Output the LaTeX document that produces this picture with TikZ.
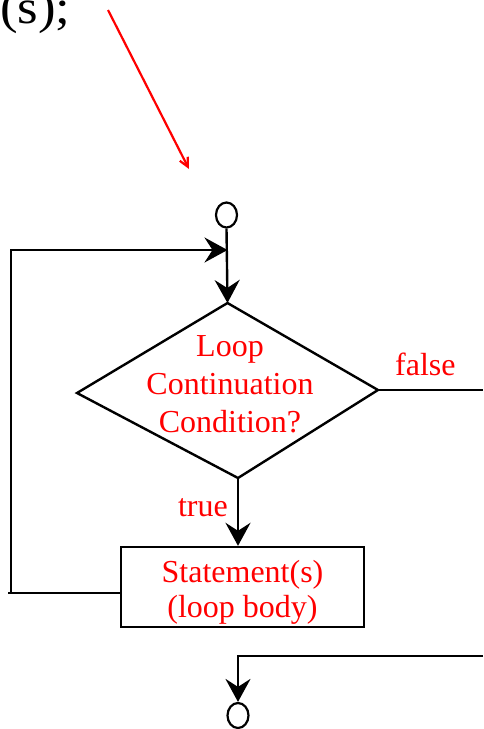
\documentclass[tikz,border=0pt]{standalone}
\usepackage{fontspec}
\setmainfont{Liberation Serif}
\usetikzlibrary{arrows.meta,shapes.geometric}
\begin{document}
\begin{tikzpicture}[x=1pt,y=-1pt,
  flow/.style={line width=2.4pt, draw=black},
  tip/.style={-{Stealth[length=23pt,width=25pt,inset=8pt]}},
  term/.style={draw, ellipse, line width=2.2pt, minimum width=21pt, minimum height=25pt, inner sep=0pt},
  rectbox/.style={draw, line width=2.4pt, minimum width=243pt, minimum height=80pt, inner sep=0pt},
  redtext/.style={text=red, font=\fontsize{32}{38}\selectfont, align=center, inner sep=0pt},
  lbl/.style={text=red, font=\fontsize{32}{38}\selectfont, inner sep=0pt},
]
\useasboundingbox (0,0) rectangle (483,729);

% cropped code text and pointer
\node[anchor=base west, inner sep=0pt, xscale=1.1, transform shape, font=\fontsize{48}{48}\selectfont] (code) at (0,23.5) {(s);};
\coordinate (rs) at (108,10);
\coordinate (re) at (189,169);
\draw[red, line width=2.2pt, -{Straight Barb[length=9pt,width=9pt]}] (rs) -- (re);

% start terminal
\node[term] (start) at (226.5,215) {};

% decision
\coordinate (dt) at (227.5,303);
\coordinate (dr) at (378,390);
\coordinate (db) at (238,478);
\coordinate (dl) at (77,393);
\draw[flow, line join=miter] (dt) -- (dr) -- (db) -- (dl) -- cycle;
\node[redtext] (cond) at (230,384.4) {Loop\\Continuation\\Condition?};
\draw[flow,tip] (start.south) -- (dt);

% body
\node[rectbox] (body) at (242.5,587) {};
\node[redtext, font=\fontsize{32}{35}\selectfont] (bodytext) at (242.5,592.2) {Statement(s)\\(loop body)};
\draw[flow,tip] (db) -- (db |- body.north);
\node[lbl, anchor=base east] (true) at (228,516) {true};

% loop back
\coordinate (lb) at (11,593);
\coordinate (lo) at (8,593);
\coordinate (lt) at (11,250);
\coordinate (jn) at (227.5,250);
\draw[flow] (body.west |- lb) -- (lo);
\draw[flow,tip] (lb) -- (lt) -- (jn);

% false exit
\coordinate (fe) at (483,390);
\draw[flow] (dr) -- (fe);
\node[lbl, anchor=base west] (false) at (395,375) {false};

% end terminal
\coordinate (be) at (483,656);
\coordinate (bc) at (238,656);
\node[term] (end) at (238,715.5) {};
\draw[flow,tip] (be) -- (bc) -- (end.north);
\end{tikzpicture}
\end{document}
